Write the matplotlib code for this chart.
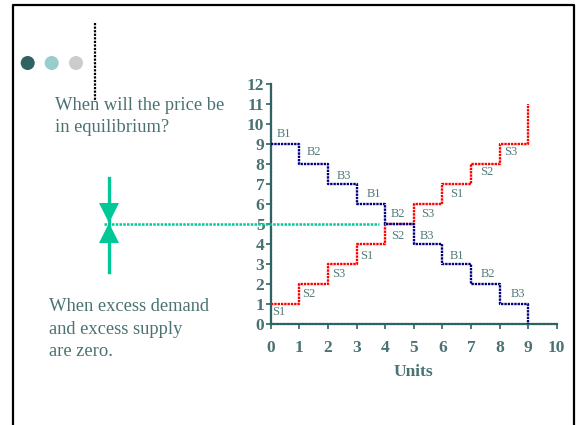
import matplotlib
matplotlib.use("Agg")
import matplotlib.pyplot as plt
from matplotlib.patches import Polygon, Circle
from matplotlib.lines import Line2D

# ---- data ----
units = [0, 1, 2, 3, 4, 5, 6, 7, 8, 9]
demand_price = [9, 8, 7, 6, 5, 4, 3, 2, 1, 0]
supply_price = [1, 2, 3, 4, 5, 6, 7, 8, 9, 11]
buyer_labels = ["B1", "B2", "B3", "B1", "B2", "B3", "B1", "B2", "B3"]
buyer_label_x = [0.45, 1.52, 2.55, 3.6, 4.45, 5.45, 6.5, 7.6, 8.66]
buyer_label_y = [9.5, 8.6, 7.4, 6.5, 5.5, 4.4, 3.4, 2.5, 1.5]
seller_labels = ["S1", "S2", "S3", "S1", "S2", "S3", "S1", "S2", "S3"]
seller_label_x = [0.27, 1.34, 2.39, 3.36, 4.43, 5.48, 6.5, 7.55, 8.4]
seller_label_y = [0.58, 1.5, 2.5, 3.4, 4.4, 5.5, 6.5, 7.6, 8.6]
equilibrium_price = 5
xticks = list(range(0, 11))
yticks = list(range(0, 13))

W, H = 579, 425
fig = plt.figure(figsize=(W / 100, H / 100), dpi=100)
fig.patch.set_facecolor("white")

serif = ["Liberation Serif", "DejaVu Serif"]
teal_dark = "#2f6262"
text_teal = "#4a7272"
label_gray = "#557a7a"
green = "#00c896"

# main axes
ax = fig.add_axes([270.7 / W, 1 - 324 / H, (556.7 - 270.7) / W, (324 - 84) / H])
ax.set_xlim(0, 10)
ax.set_ylim(0, 12)
ax.patch.set_alpha(0)
for s in ["top", "right"]:
    ax.spines[s].set_visible(False)
for s in ["left", "bottom"]:
    ax.spines[s].set_color(teal_dark)
    ax.spines[s].set_linewidth(1.6)
    ax.spines[s].set_linestyle((0, (1, 0.6)))
ax.set_xticks(xticks)
ax.set_yticks(yticks)
ax.tick_params(axis="both", colors=teal_dark, length=3.5, width=1.2, direction="out")
ax.tick_params(axis="x", pad=8)
ax.tick_params(axis="y", pad=1)
for lab in ax.get_xticklabels() + ax.get_yticklabels():
    lab.set_fontfamily(serif)
    lab.set_fontweight("bold")
    lab.set_fontsize(12.5)
    lab.set_color(text_teal)
ax.set_xlabel("Units", fontfamily=serif, fontweight="bold", fontsize=12.5,
              color=text_teal, labelpad=6)

ax.step(units, demand_price, where="post", color="#000080", lw=1.7,
        ls=(0, (1, 0.4)), clip_on=False, zorder=3)
ax.step(units, supply_price, where="post", color="#ff0000", lw=1.7,
        ls=(0, (1, 0.4)), clip_on=False, zorder=2)

for t, x, y in zip(buyer_labels, buyer_label_x, buyer_label_y):
    ax.text(x, y, t, fontfamily=serif, fontsize=9, color=label_gray,
            ha="center", va="center")
for t, x, y in zip(seller_labels, seller_label_x, seller_label_y):
    ax.text(x, y, t, fontfamily=serif, fontsize=9, color=label_gray,
            ha="center", va="center")

# equilibrium guide line
ax.plot([-5.83, 3.8], [equilibrium_price, equilibrium_price], color=green,
        lw=1.8, ls=(0, (1, 0.5)), clip_on=False, zorder=4)

# overlay in pixel coordinates for decorations
ov = fig.add_axes([0, 0, 1, 1], zorder=-1)
ov.set_xlim(0, W)
ov.set_ylim(H, 0)
ov.axis("off")

# border
ov.add_line(Line2D([12.5, 12.5, 574, 574], [H, 5, 5, H], color="black", lw=1.6))

# dots
for cx, c in [(27.7, "#2f6262"), (51.7, "#99cccc"), (76, "#cccccc")]:
    ov.add_patch(Circle((cx, 63), 7, color=c, lw=0))

# black dotted vertical
ov.add_line(Line2D([95, 95], [23, 102], color="black", lw=1.6, ls=(0, (1, 0.6))))

# arrows
ov.add_line(Line2D([109, 109], [178, 272], color=green, lw=2.4))
ov.add_patch(Polygon([[99, 203], [119, 203], [109, 223]], closed=True, color=green, lw=0))
ov.add_patch(Polygon([[99, 243], [119, 243], [109, 223]], closed=True, color=green, lw=0))

fig.text(55 / W, 1 - 105 / H, "When will the price be", fontfamily=serif,
         fontsize=13.3, color=text_teal, va="center", ha="left")
fig.text(55 / W, 1 - 127 / H, "in equilibrium?", fontfamily=serif,
         fontsize=13.3, color=text_teal, va="center", ha="left")
for i, line in enumerate(["When excess demand", "and excess supply", "are zero."]):
    fig.text(49 / W, 1 - (306.7 + 22.5 * i) / H, line, fontfamily=serif,
             fontsize=13.3, color=text_teal, va="center", ha="left")

fig.savefig("out.png", dpi=100)
